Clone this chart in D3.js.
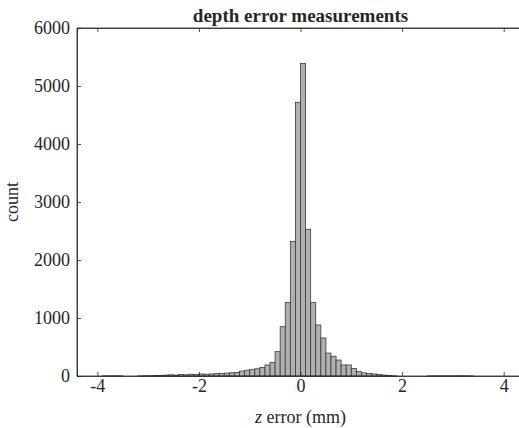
<!DOCTYPE html>
<html>
<head>
<meta charset="utf-8">
<script src="https://cdn.jsdelivr.net/npm/d3@7"></script>
<style>
    body { margin: 0; background: #fff; }
    #chart text { font-family: "Liberation Serif", "Times New Roman", serif; fill: #262626; }
</style>
</head>
<body>
<div id="chart"></div>
<script>
// Histogram bins (lower edge of each 0.1 mm bin)
const binStarts = [
    -4.0, -3.9, -3.8, -3.7, -3.6, -3.5, -3.4, -3.3, -3.2, -3.1,
    -3.0, -2.9, -2.8, -2.7, -2.6, -2.5, -2.4, -2.3, -2.2, -2.1,
    -2.0, -1.9, -1.8, -1.7, -1.6, -1.5, -1.4, -1.3, -1.2, -1.1,
    -1.0, -0.9, -0.8, -0.7, -0.6, -0.5, -0.4, -0.3, -0.2, -0.1,
     0.0,  0.1,  0.2,  0.3,  0.4,  0.5,  0.6,  0.7,  0.8,  0.9,
     1.0,  1.1,  1.2,  1.3,  1.4,  1.5,  1.6,  1.7,  1.8,  1.9,
     2.0,  2.1,  2.2,  2.3,  2.4,  2.5,  2.6,  2.7,  2.8,  2.9,
     3.0,  3.1,  3.2,  3.3,  3.4,  3.5,  3.6,  3.7,  3.8,  3.9
];
const binWidth = 0.1;

// Counts per bin
const counts = [
    0, 3, 3, 3, 3, 0, 0, 0, 2, 5,
    5, 8, 10, 15, 20, 15, 25, 20, 30, 25,
    35, 30, 35, 40, 45, 50, 55, 60, 85, 100,
    115, 125, 145, 190, 235, 420, 850, 1270, 2320, 4720,
    5390, 2530, 1270, 880, 655, 395, 340, 275, 190, 190,
    130, 75, 55, 45, 35, 25, 15, 8, 3, 0,
    0, 0, 0, 0, 0, 2, 3, 3, 3, 3,
    3, 3, 3, 2, 0, 0, 0, 0, 0, 0
];

const xTicks = [-4, -2, 0, 2, 4];
const yTicks = [0, 1000, 2000, 3000, 4000, 5000, 6000];

function renderHistogram() {
    const width = 519, height = 428;
    // right edge of the axes box falls just outside the picture
    const margin = { top: 28, right: -5, bottom: 52, left: 77 };
    const innerW = width - margin.left - margin.right;
    const innerH = height - margin.top - margin.bottom;

    const svg = d3.select("#chart")
        .append("svg")
        .attr("width", width)
        .attr("height", height);

    const g = svg.append("g")
        .attr("transform", `translate(${margin.left},${margin.top})`);

    const x = d3.scaleLinear().domain([-4.4, 4.4]).range([0, innerW]);
    const y = d3.scaleLinear().domain([0, 6000]).range([innerH, 0]);

    const data = binStarts.map((b, i) => ({ x0: b, x1: b + binWidth, count: counts[i] }));

    // Bars
    g.selectAll("rect.bar")
        .data(data)
        .join("rect")
        .attr("class", "bar")
        .attr("x", d => x(d.x0))
        .attr("y", d => y(d.count))
        .attr("width", d => x(d.x1) - x(d.x0))
        .attr("height", d => innerH - y(d.count))
        .attr("fill", "#b0b0b0")
        .attr("stroke", "#3a3a3a")
        .attr("stroke-width", 0.8);

    // Box
    g.append("rect")
        .attr("x", 0).attr("y", 0)
        .attr("width", innerW).attr("height", innerH)
        .attr("fill", "none")
        .attr("stroke", "#262626")
        .attr("stroke-width", 0.8);

    // Bottom axis (ticks point inward)
    const xAxis = g.append("g")
        .attr("transform", `translate(0,${innerH})`)
        .call(d3.axisBottom(x).tickValues(xTicks).tickSize(-4).tickPadding(3).tickFormat(d3.format("d")));
    // Top ticks
    const xAxisTop = g.append("g")
        .call(d3.axisTop(x).tickValues(xTicks).tickSize(-4).tickFormat(""));
    // Left axis
    const yAxis = g.append("g")
        .call(d3.axisLeft(y).tickValues(yTicks).tickSize(-4).tickPadding(7).tickFormat(d3.format("d")));

    [xAxis, xAxisTop, yAxis].forEach(a => {
        a.select(".domain").attr("stroke", "#262626").attr("stroke-width", 0.8);
        a.selectAll(".tick line").attr("stroke", "#262626").attr("stroke-width", 0.8);
        a.selectAll("text").style("font-size", "18px");
    });
    xAxis.selectAll("text").text(d => d < 0 ? "-" + Math.abs(d) : d);

    // Title
    g.append("text")
        .attr("x", x(0))
        .attr("y", -6)
        .attr("text-anchor", "middle")
        .style("font-size", "19px")
        .style("font-weight", "bold")
        .text("depth error measurements");

    // X label
    const xl = g.append("text")
        .attr("x", x(0))
        .attr("y", innerH + 47)
        .attr("text-anchor", "middle")
        .style("font-size", "18px");
    xl.append("tspan").style("font-style", "italic").text("z");
    xl.append("tspan").text(" error (mm)");

    // Y label
    g.append("text")
        .attr("transform", "rotate(-90)")
        .attr("x", -y(3000))
        .attr("y", -59)
        .attr("text-anchor", "middle")
        .style("font-size", "18px")
        .text("count");
}

document.addEventListener("DOMContentLoaded", renderHistogram);
</script>
</body>
</html>
